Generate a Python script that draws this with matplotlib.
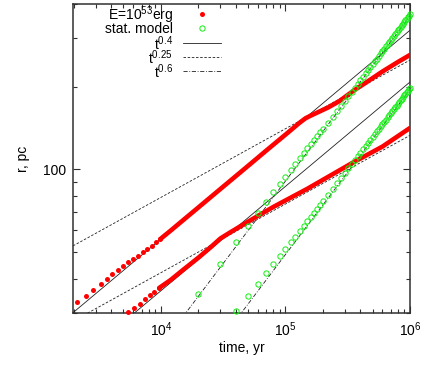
import numpy as np
import matplotlib
matplotlib.use("Agg")
import matplotlib.pyplot as plt
from matplotlib.ticker import FixedLocator, NullFormatter, FixedFormatter

plt.rcParams['font.family'] = ['Liberation Sans', 'DejaVu Sans']
plt.rcParams['mathtext.fontset'] = 'custom'
plt.rcParams['mathtext.rm'] = 'Liberation Sans'
plt.rcParams['mathtext.it'] = 'Liberation Sans:italic'
plt.rcParams['font.size'] = 10

# ---------------- data ----------------
# simulation, upper track: individual early dots
red1_dot_t = [2108, 2504, 2866, 3287, 3674, 4076, 4504, 4941, 5422, 5948,
              6597, 7157, 7796, 8458, 9157, 9863]
red1_dot_r = [32.9, 34.7, 36.5, 38.3, 39.9, 41.5, 43.1, 44.4, 45.9, 47.2,
              48.5, 49.9, 51.3, 52.7, 54.2, 55.7]
# simulation, upper track: dense part (overlapping dots)
red1_t = [9863, 1.2e4, 1.5e4, 2e4, 3e4, 5e4, 7e4, 1e5, 1.3e5, 1.45e5,
          1.6e5, 1.8e5, 2.2e5, 2.7e5, 3.5e5, 4.5e5, 6e5, 8e5, 1e6]
red1_r = [55.7, 59.9, 65.2, 72.7, 84.8, 102.9, 117.0, 133.8, 147.9, 153.5,
          157.0, 161.0, 168.0, 177.0, 193.0, 208.0, 227.0, 246.0, 261.0]

# simulation, lower track
red2_dot_t = [5482, 6091, 6808, 7468, 8194, 8875, 9680]
red2_dot_r = [30.25, 31.3, 32.4, 33.6, 34.8, 35.7, 37.0]
red2_t = [9680, 1.2e4, 1.5e4, 2e4, 2.5e4, 3e4, 3.5e4, 5e4, 8e4, 1.5e5,
          3.5e5, 6e5, 1e6]
red2_r = [37.0, 39.6, 43.0, 47.7, 52.0, 56.0, 58.5, 64.5, 73.0, 85.0,
          106.0, 121.0, 141.5]

# statistical model
green1_t = [2e4, 3e4, 4e4, 5e4, 6e4, 7e4, 8e4, 9e4, 1e5, 1.1e5, 1.2e5, 1.3e5,
            1.4e5, 1.5e5, 1.6e5, 1.7e5, 1.8e5, 1.9e5, 2e5,
            2.2e5, 2.4e5, 2.6e5, 2.8e5, 3e5, 3.2e5, 3.4e5, 3.6e5, 3.8e5, 4e5,
            4.2e5, 4.4e5, 4.6e5, 4.8e5, 5e5, 5.2e5, 5.4e5, 5.6e5, 5.8e5, 6e5,
            6.2e5, 6.4e5, 6.6e5, 6.8e5, 7e5, 7.2e5, 7.4e5, 7.6e5, 7.8e5, 8e5,
            8.2e5, 8.4e5, 8.6e5, 8.8e5, 9e5, 9.2e5, 9.4e5, 9.6e5, 9.8e5, 1e6]
green1_r = [35.2, 45.3, 54.2, 62.0, 69.2, 76.0, 82.5, 88.5, 94.2, 99.6, 104.8, 109.8,
            114.6, 119.2, 123.7, 128.0, 132.2, 136.3, 140.3,
            147.7, 155.6, 163.3, 170.7, 177.9, 184.9, 191.8, 198.5, 205.0, 211.4,
            217.7, 223.9, 230.0, 235.9, 241.8, 247.6, 253.2, 258.8, 264.3, 269.7,
            275.0, 280.3, 285.5, 290.7, 295.8, 300.8, 305.8, 310.8, 315.7, 320.5,
            325.3, 330.0, 334.7, 339.4, 344.0, 348.5, 353.1, 357.6, 361.9, 366.4]
green2_t = green1_t[2:]
green2_r = [30.4, 34.6, 38.4, 41.9, 45.2, 48.3, 51.3, 54.2, 56.9, 59.5,
            62.2, 64.7, 67.1, 69.5, 71.9, 74.2, 76.4,
            80.9, 85.1, 89.3, 93.2, 97.2, 100.9, 104.6, 108.2, 111.7, 115.1,
            118.5, 121.8, 125.1, 128.2, 131.4, 134.4, 137.4, 140.5, 143.3, 146.3,
            149.1, 151.9, 154.7, 157.5, 160.1, 162.9, 165.5, 168.2, 170.7, 173.3,
            175.9, 178.4, 181.0, 183.3, 185.8, 188.3, 190.7, 193.2, 195.5, 197.9]

# legend labels
label_sim = r'E=10$^{\mathregular{53}}$erg'
label_model = 'stat. model'

# power-law guide lines: (exponent drawn, value at t = 1e6 for upper / lower track)
guide_labels = [r'$\mathregular{t^{0.4}}$', r'$\mathregular{t^{0.25}}$', r'$\mathregular{t^{0.6}}$']
guide_exp = [0.38, 0.25, 0.6]
guide_r_upper = [321.0, 250.0, 361.0]
guide_r_lower = [208.0, 133.0, 195.0]
guide_styles = ['-', (0, (3, 2)), (0, (5, 2, 1, 2))]

xlim = (1968, 1e6)
ylim = (30, 400)

# ---------------- figure ----------------
W, H = 436, 369
fig = plt.figure(figsize=(W / 100, H / 100), dpi=100)
ax = fig.add_axes([73 / W, 1 - 313 / H, 337 / W, 309 / H])
ax.set_xscale('log')
ax.set_yscale('log')
ax.set_xlim(*xlim)
ax.set_ylim(*ylim)

tl = np.logspace(np.log10(xlim[0]), 6, 300)
guide_handles = []
for i in range(3):
    for k, amp in enumerate((guide_r_upper[i], guide_r_lower[i])):
        ln, = ax.plot(tl, amp * (tl / 1e6) ** guide_exp[i], color='#202020',
                      lw=0.6, linestyle=guide_styles[i], zorder=2)
        if k == 0:
            guide_handles.append(ln)

red = '#ff0000'
green = '#11ee11'
ax.plot(red1_t, red1_r, color=red, lw=3.3, solid_capstyle='round', zorder=3)
ax.plot(red2_t, red2_r, color=red, lw=3.3, solid_capstyle='round', zorder=3)
h_sim, = ax.plot(red1_dot_t, red1_dot_r, 'o', color=red, ms=3.6, mew=0, zorder=3,
                 clip_on=False)
ax.plot(red2_dot_t, red2_dot_r, 'o', color=red, ms=3.6, mew=0, zorder=3, clip_on=False)
h_mod, = ax.plot(green1_t, green1_r, 'o', mfc='none', mec=green, ms=3.8, mew=0.7,
                 zorder=4, clip_on=False)
ax.plot(green2_t, green2_r, 'o', mfc='none', mec=green, ms=3.8, mew=0.7, zorder=4,
        clip_on=False)

# ticks
ax.xaxis.set_major_locator(FixedLocator([1e4, 1e5, 1e6]))
ax.xaxis.set_major_formatter(FixedFormatter([r'$\mathregular{10^{4}}$',
                                             r'$\mathregular{10^{5}}$',
                                             r'$\mathregular{10^{6}}$']))
xm = [m * 10 ** e for e in (3, 4, 5) for m in range(2, 10)]
ax.xaxis.set_minor_locator(FixedLocator(xm))
ax.xaxis.set_minor_formatter(NullFormatter())
ax.yaxis.set_major_locator(FixedLocator([100]))
ax.yaxis.set_major_formatter(FixedFormatter(['100']))
ax.yaxis.set_minor_locator(FixedLocator([30, 40, 50, 60, 70, 80, 90, 200, 300, 400]))
ax.yaxis.set_minor_formatter(NullFormatter())
ax.tick_params(which='both', direction='in', top=True, right=True, color='#303030',
               labelsize=10)
ax.tick_params(which='major', length=5, width=0.8, pad=5)
ax.tick_params(which='minor', length=3, width=0.8)
for s in ax.spines.values():
    s.set_linewidth(1.1)
    s.set_color('#303030')

ax.set_xlabel('time, yr', fontsize=10, labelpad=2)
ax.set_ylabel('r, pc', fontsize=10, labelpad=9)

# key: samples via legend (no labels), right-aligned texts to their left
handles = [h_sim, h_mod] + guide_handles
labels = [label_sim, label_model] + guide_labels
row_px = 14.2                 # row pitch in pixels
fs_px = 10 * 100 / 72
leg = ax.legend(handles, [''] * len(handles), loc='upper left',
                bbox_to_anchor=((183 - 73) / 337, 1 - (8.1 - 4) / 309),
                frameon=False, handlelength=38 / fs_px, handleheight=0.7,
                handletextpad=0, labelspacing=0.015,
                borderpad=0, borderaxespad=0, fontsize=10)
for j, lab in enumerate(labels):
    ypx = 15 + j * row_px
    ax.text((173 - 73) / 337, 1 - (ypx - 4) / 309, lab, transform=ax.transAxes,
            ha='right', va='center', fontsize=10)

fig.savefig('out.png', dpi=100)
